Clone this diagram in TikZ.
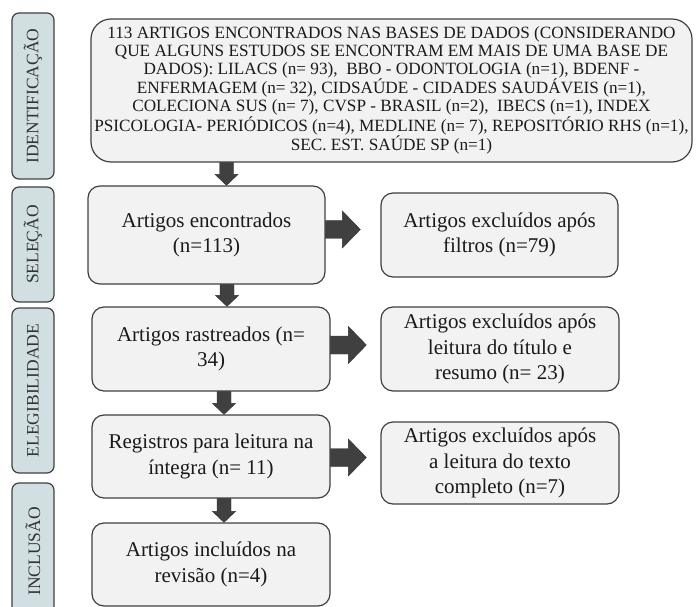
\documentclass[tikz,border=0pt]{standalone}
\usepackage{fontspec}
\setmainfont{Liberation Serif}
\usetikzlibrary{calc}
\definecolor{boxfill}{HTML}{F2F2F2}
\definecolor{boxline}{HTML}{404040}
\definecolor{sidefill}{HTML}{D1DFE3}
\definecolor{arrfill}{HTML}{404040}
\definecolor{txt}{HTML}{1A1A1A}
\definecolor{sidetxt}{HTML}{333333}
% block arrow pointing down, from #1 to #2 (same x)
\newcommand{\dnarrow}[2]{%
  \filldraw[blk] let \p1=(#1), \p2=(#2) in
    (\x1-7pt,\y1) -- (\x1-7pt,\y2+11pt) -- (\x1-11.5pt,\y2+11pt) -- (\x1,\y2)
    -- (\x1+11.5pt,\y2+11pt) -- (\x1+7pt,\y2+11pt) -- (\x1+7pt,\y1) -- cycle;}
% block arrow pointing right, from #1 to #2 (same y)
\newcommand{\rtarrow}[2]{%
  \filldraw[blk] let \p1=(#1), \p2=(#2) in
    (\x1,\y1+9pt) -- (\x2-18pt,\y1+9pt) -- (\x2-18pt,\y1+18.5pt) -- (\x2,\y1)
    -- (\x2-18pt,\y1-18.5pt) -- (\x2-18pt,\y1-9pt) -- (\x1,\y1-9pt) -- cycle;}
\begin{document}
\begin{tikzpicture}[x=1pt,y=-1pt,
  box/.style={draw=boxline, fill=boxfill, line width=1.2pt, rounded corners=12pt,
    inner sep=0pt, align=center, text=txt, font=\fontsize{21}{25.5}\selectfont},
  topbox/.style={box, rounded corners=20pt, font=\fontsize{17.2}{17.9}\selectfont},
  side/.style={draw=boxline, fill=sidefill, line width=1.2pt, rounded corners=7pt,
    inner sep=0pt, minimum height=42pt, text=sidetxt, font=\fontsize{17.5}{20}\selectfont},
  blk/.style={fill=arrfill, draw=arrfill!80!black, line width=0.4pt}]
\clip (0,0) rectangle (697,607);

% phase labels
\node[side, rotate=90, minimum width=166pt] (s1) at (33,96) {IDENTIFICAÇÃO};
\node[side, rotate=90, minimum width=115pt] (s2) at (33,244.5) {SELEÇÃO};
\node[side, rotate=90, minimum width=165pt] (s3) at (33,390.5) {ELEGIBILIDADE};
\node[side, rotate=90, minimum width=137pt] (s4) at (33,551.5) {INCLUSÃO};

% boxes
\node[topbox, minimum width=601pt, minimum height=143pt] (top) at (391.5,90.5) {%
113 ARTIGOS ENCONTRADOS NAS BASES DE DADOS (CONSIDERANDO\\
QUE ALGUNS ESTUDOS SE ENCONTRAM EM MAIS DE UMA BASE DE\\
DADOS): LILACS (n= 93),\ \ BBO - ODONTOLOGIA (n=1), BDENF -\\
ENFERMAGEM (n= 32), CIDSAÚDE - CIDADES SAUDÁVEIS (n=1),\\
COLECIONA SUS (n= 7), CVSP - BRASIL (n=2),\ \ IBECS (n=1), INDEX\\
PSICOLOGIA- PERIÓDICOS (n=4), MEDLINE (n= 7), REPOSITÓRIO RHS (n=1),\\
SEC. EST. SAÚDE SP (n=1)};

\node[box, minimum width=237pt, minimum height=98pt] (enc) at (206.5,235) {Artigos encontrados\\(n=113)};
\node[box, minimum width=237pt, minimum height=84pt] (flt) at (499.5,235) {Artigos excluídos após\\filtros (n=79)};

\node[box, minimum width=238pt, minimum height=84pt] (ras) at (211,349) {Artigos rastreados (n=\\34)};
\node[box, minimum width=238pt, minimum height=84pt] (tit) at (500,349) {Artigos excluídos após\\leitura do título e\\resumo (n= 23)};

\node[box, minimum width=238pt, minimum height=83pt] (reg) at (211,456.5) {Registros para leitura na\\íntegra (n= 11)};
\node[box, minimum width=238pt, minimum height=82pt] (txt) at (500,463) {Artigos excluídos após\\a leitura do texto\\completo (n=7)};

\node[box, minimum width=238pt, minimum height=83pt] (inc) at (211,564.5) {Artigos incluídos na\\revisão (n=4)};

% arrow positions
\coordinate (ax1) at (226.5,0);
\coordinate (ax2) at (227,0);
\coordinate (ax3) at (224,0);
\coordinate (ax4) at (224,0);
\coordinate (ay1) at (0,229.5);
\coordinate (ay2) at (0,345);
\coordinate (ay3) at (0,457.5);

% down arrows
\dnarrow{top.south -| ax1}{enc.north -| ax1}
\dnarrow{enc.south -| ax2}{ras.north -| ax2}
\dnarrow{ras.south -| ax3}{reg.north -| ax3}
\dnarrow{reg.south -| ax4}{inc.north -| ax4}

% right arrows
\rtarrow{enc.east |- ay1}{$(flt.west |- ay1)+(-20,0)$}
\rtarrow{ras.east |- ay2}{$(tit.west |- ay2)+(-14,0)$}
\rtarrow{reg.east |- ay3}{$(txt.west |- ay3)+(-14,0)$}
\end{tikzpicture}
\end{document}
